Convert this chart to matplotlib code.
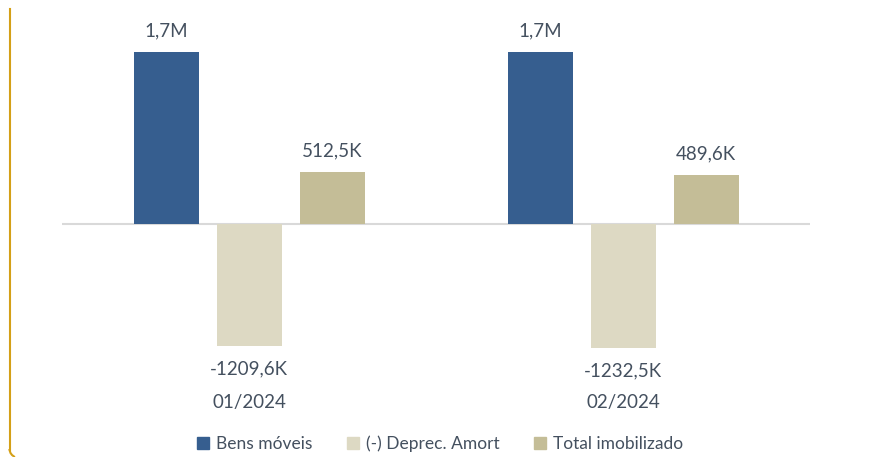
import numpy as np
import matplotlib
matplotlib.use('Agg')
import matplotlib.pyplot as plt
from matplotlib.lines import Line2D

# values in thousands
periods = ['01/2024', '02/2024']
bens = [1705.0, 1705.0]
deprec = [-1209.6, -1232.5]
total = [512.5, 489.6]
series_names = ['Bens móveis', '(-) Deprec. Amort', 'Total imobilizado']
bens_labels = ['1,7M', '1,7M']
deprec_labels = ['-1209,6K', '-1232,5K']
total_labels = ['512,5K', '489,6K']

colors = ['#365E8F', '#DDD9C3', '#C4BD97']
txt = '#44505F'

plt.rcParams['font.family'] = ['Lato', 'DejaVu Sans']

fig = plt.figure(figsize=(8.82, 4.57), dpi=100)
W, H = 882, 457
# axes placed in pixel terms: x 62..810, y 40..360 (from top)
ax = fig.add_axes([62 / W, 1 - 360 / H, 748 / W, 320 / H])
px = 1 / 0.1009  # thousands per pixel
ax.set_ylim(-(360 - 224) * px, (224 - 40) * px)
ax.set_xlim(-0.5, 1.5)

x = np.arange(len(periods))
bw = 65 / 374
step = 83 / 374
series = [bens, deprec, total]
labels = [bens_labels, deprec_labels, total_labels]
for i, (vals, labs) in enumerate(zip(series, labels)):
    xs = x + (i - 1) * step
    ax.bar(xs, vals, width=bw, color=colors[i], label=series_names[i], zorder=2)
    for xi, v, lab in zip(xs, vals, labs):
        off = 9 if v > 0 else -10
        ax.annotate(lab, (xi, v), xytext=(0, off), textcoords='offset points',
                    ha='center', va='bottom' if v > 0 else 'top',
                    fontsize=13.5, color=txt)

# category labels below the negative labels
for xi, p in zip(x, periods):
    ax.annotate(p, (xi, min(deprec)), xytext=(0, -33), textcoords='offset points',
                ha='center', va='top', fontsize=13.5, color=txt)

ax.axhline(0, color='#D9D9D9', lw=1.5, zorder=1)
ax.axis('off')

handles = [plt.Rectangle((0, 0), 1, 1, color=c) for c in colors]
fig.legend(handles, series_names, loc='center', bbox_to_anchor=(440 / W, 1 - 444 / H),
           ncol=3, frameon=False, fontsize=12.5, handlelength=0.7, handleheight=0.7,
           handletextpad=0.4, columnspacing=2.0, labelcolor=txt)

# golden frame line at left
gold = '#D4A017'
fig.add_artist(Line2D([9.5 / W, 9.5 / W], [1 - 9 / H, 1 - 450 / H], color=gold, lw=1.5,
                      transform=fig.transFigure))
fig.add_artist(Line2D([9.5 / W, 10.5 / W, 12 / W, 14 / W],
                      [1 - 450 / H, 1 - 453 / H, 1 - 455 / H, 1 - 456.5 / H],
                      color=gold, lw=1.5, transform=fig.transFigure))

fig.savefig('out.png', dpi=100)
